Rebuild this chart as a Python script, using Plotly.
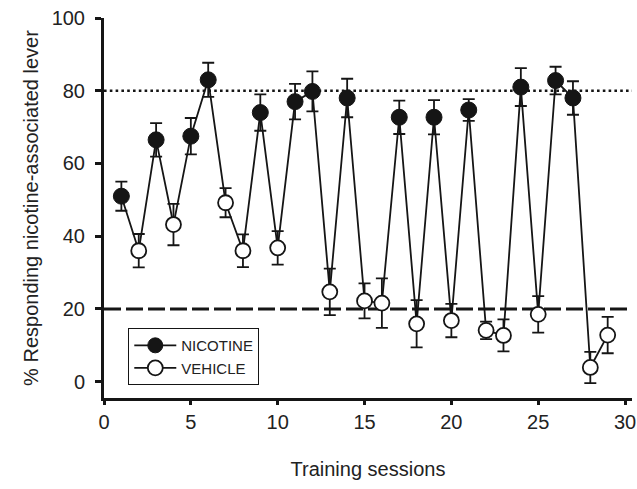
import plotly.graph_objects as go

# Data
nic_sessions = [1, 3, 5, 6, 9, 11, 12, 14, 17, 19, 21, 24, 26, 27]
nic_mean = [51, 66.5, 67.5, 83, 74, 77, 79.8, 78, 72.7, 72.7, 74.7, 81, 82.8, 78]
nic_sem = [4, 4.6, 5, 4.7, 5, 4.9, 5.5, 5.3, 4.6, 4.7, 3, 5.2, 3.8, 4.6]

veh_sessions = [2, 4, 7, 8, 10, 13, 15, 16, 18, 20, 22, 23, 25, 28, 29]
veh_mean = [36, 43.2, 49.2, 36, 36.8, 24.7, 22.2, 21.6, 15.9, 16.8, 14.1, 12.7, 18.5, 3.9, 12.8]
veh_sem = [4.6, 5.7, 4, 4.5, 4.6, 6.4, 4.8, 6.8, 6.5, 4.6, 2.4, 4.4, 5, 4.3, 5]

x_ticks = [0, 5, 10, 15, 20, 25, 30]
y_ticks = [0, 20, 40, 60, 80, 100]
criterion_nic = 80
criterion_veh = 20

# Combined sequence in session order for the connecting line
combined = sorted(list(zip(nic_sessions, nic_mean)) + list(zip(veh_sessions, veh_mean)))
all_x = [c[0] for c in combined]
all_y = [c[1] for c in combined]

ink = "#151515"
font_family = "Liberation Sans, Arial, sans-serif"

fig = go.Figure()

fig.add_trace(go.Scatter(
    x=all_x, y=all_y, mode="lines",
    line=dict(color=ink, width=1.8),
    showlegend=False, hoverinfo="skip",
))

fig.add_trace(go.Scatter(
    x=nic_sessions, y=nic_mean, mode="markers",
    marker=dict(size=16, color=ink, line=dict(color=ink, width=1)),
    error_y=dict(type="data", array=nic_sem, visible=True, color=ink, thickness=1.8, width=6),
    showlegend=False,
))

fig.add_trace(go.Scatter(
    x=veh_sessions, y=veh_mean, mode="markers",
    marker=dict(size=15, color="white", line=dict(color=ink, width=1.8)),
    error_y=dict(type="data", array=veh_sem, visible=True, color=ink, thickness=1.8, width=6),
    showlegend=False,
))

# Legend-only entries
fig.add_trace(go.Scatter(
    x=[None], y=[None], mode="lines+markers", name="NICOTINE",
    line=dict(color=ink, width=1.8),
    marker=dict(size=15, color=ink, line=dict(color=ink, width=1)),
))
fig.add_trace(go.Scatter(
    x=[None], y=[None], mode="lines+markers", name="VEHICLE",
    line=dict(color=ink, width=1.8),
    marker=dict(size=15, color="white", line=dict(color=ink, width=1.8)),
))

fig.add_shape(type="line", xref="paper", x0=0, x1=1, yref="y",
              y0=criterion_nic, y1=criterion_nic,
              line=dict(color=ink, width=2.6, dash="2.6px,3.2px"), layer="below")
fig.add_shape(type="line", xref="paper", x0=0, x1=1, yref="y",
              y0=criterion_veh, y1=criterion_veh,
              line=dict(color=ink, width=3, dash="17px,5px"), layer="below")

fig.update_layout(
    width=637, height=489,
    margin=dict(l=104, r=5, t=18, b=91),
    paper_bgcolor="white", plot_bgcolor="white",
    font=dict(family=font_family, color="#222", size=20),
    showlegend=True,
    legend=dict(
        x=0.046, y=0.034, xanchor="left", yanchor="bottom",
        bordercolor=ink, borderwidth=1, bgcolor="white",
        font=dict(size=15, color="#222"),
        tracegroupgap=0, itemwidth=42,
    ),
    xaxis=dict(
        range=[0, 30.4], tickvals=x_ticks, ticktext=[str(v) for v in x_ticks],
        showline=True, linecolor=ink, linewidth=3,
        ticks="outside", ticklen=4, tickwidth=2.5, tickcolor=ink,
        showgrid=False, zeroline=False, automargin=False,
        tickfont=dict(size=20),
        title=dict(text="Training sessions", font=dict(size=20), standoff=30),
    ),
    yaxis=dict(
        range=[-4.5, 100], tickvals=y_ticks, ticktext=[str(v) for v in y_ticks],
        showline=True, linecolor=ink, linewidth=3,
        ticks="outside", ticklen=6, tickwidth=2.5, tickcolor=ink,
        showgrid=False, zeroline=False, automargin=False,
        ticklabelstandoff=6,
        tickfont=dict(size=20),
        title=dict(text="% Responding nicotine-associated lever", font=dict(size=20), standoff=8),
    ),
)

fig.write_html(
    "out.html",
    config={"displayModeBar": False},
    post_script="document.body.style.margin='0';document.body.style.overflow='hidden';",
)
